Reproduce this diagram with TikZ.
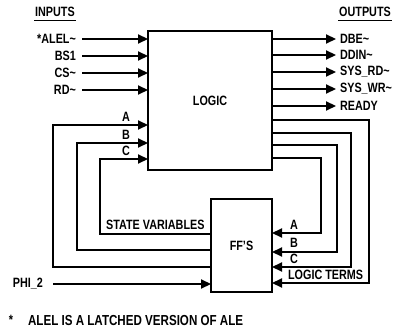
\documentclass[tikz,border=0pt]{standalone}
\usepackage{fontspec}
\setmainfont{Liberation Sans}[FakeStretch=0.8]
\usetikzlibrary{arrows.meta}
\newcommand{\nt}{\textasciitilde}

\begin{document}
\begin{tikzpicture}[x=1pt, y=-1pt, line width=2.2pt,
  >={Triangle[length=10pt, width=9pt]},
  txt/.style={font=\bfseries\fontsize{13.5}{15}\selectfont, inner sep=0pt},
  blk/.style={draw, inner sep=0pt, outer sep=0pt, anchor=north west}]
  \useasboundingbox (0,0) rectangle (394,329);
  % boxes
  \node[blk, txt, minimum width=124pt, minimum height=139pt] (logic) at (148,31) {LOGIC};
  \node[blk, txt, minimum width=61pt, minimum height=93pt] (ff) at (211,199) {FF'S};
  % headings
  \node[txt] (inputs) at (55,12) {INPUTS};
  \node[txt] (outputs) at (365,12) {OUTPUTS};
  \draw[line width=1.2pt] ([yshift=-3pt]inputs.south west) -- ([yshift=-3pt]inputs.south east);
  \draw[line width=1.2pt] ([yshift=-3pt]outputs.south west) -- ([yshift=-3pt]outputs.south east);
  % inputs
  \node[txt, anchor=east] (alel) at (77,39) {*ALEL\nt};
  \node[txt, anchor=east] (bsone) at (77,56) {BS1};
  \node[txt, anchor=east] (cs) at (77,73) {CS\nt};
  \node[txt, anchor=east] (rd) at (77,90) {RD\nt};
  \draw[->] ([xshift=5pt]alel.east) -- (logic.west |- alel.east);
  \draw[->] ([xshift=5pt]bsone.east) -- (logic.west |- bsone.east);
  \draw[->] ([xshift=5pt]cs.east) -- (logic.west |- cs.east);
  \draw[->] ([xshift=5pt]rd.east) -- (logic.west |- rd.east);
  % outputs
  \node[txt, anchor=west] (dbe) at (339,39) {DBE\nt};
  \node[txt, anchor=west] (ddin) at (339,55) {DDIN\nt};
  \node[txt, anchor=west] (sysrd) at (339,72) {SYS\_RD\nt};
  \node[txt, anchor=west] (syswr) at (339,89) {SYS\_WR\nt};
  \node[txt, anchor=west] (ready) at (339,106) {READY};
  \draw[->] (logic.east |- dbe.west) -- ([xshift=-3pt]dbe.west);
  \draw[->] (logic.east |- ddin.west) -- ([xshift=-3pt]ddin.west);
  \draw[->] (logic.east |- sysrd.west) -- ([xshift=-3pt]sysrd.west);
  \draw[->] (logic.east |- syswr.west) -- ([xshift=-3pt]syswr.west);
  \draw[->] (logic.east |- ready.west) -- ([xshift=-3pt]ready.west);
  % state variables back into logic
  \draw[->] (ff.west |- 0,267) -| (53,125) -- (logic.west |- 0,125);
  \draw[->] (ff.west |- 0,250) -| (77,143) -- (logic.west |- 0,143);
  \draw[->] (ff.west |- 0,234) -| (100,159) -- (logic.west |- 0,159);
  \node[txt] (sva) at (126,117) {A};
  \node[txt] (svb) at (126,135) {B};
  \node[txt] (svc) at (126,151) {C};
  \node[txt, anchor=west] (statevar) at (105,225) {STATE VARIABLES};
  % logic terms into ff
  \draw[->] (logic.east |- 0,158) -| (321,233) -- (ff.east |- 0,233);
  \draw[->] (logic.east |- 0,145) -| (337,252) -- (ff.east |- 0,252);
  \draw[->] (logic.east |- 0,133) -| (351,267) -- (ff.east |- 0,267);
  \draw[->] (logic.east |- 0,120) -| (369,283) -- (ff.east |- 0,283);
  \node[txt] (lta) at (294,225) {A};
  \node[txt] (ltb) at (294,243) {B};
  \node[txt] (ltc) at (294,259) {C};
  \node[txt, anchor=west] (logicterms) at (287,275) {LOGIC TERMS};
  % clock
  \node[txt, anchor=east] (phi) at (44,284) {PHI\_2};
  \draw[->] ([xshift=9pt]phi.east) -- (ff.west |- phi.east);
  % footnote
  \node[txt] (star) at (11,320) {*};
  \node[txt, anchor=west, font=\bfseries\fontsize{14.5}{16}\selectfont] (note) at (27,321) {ALEL IS A LATCHED VERSION OF ALE};
\end{tikzpicture}
\end{document}
